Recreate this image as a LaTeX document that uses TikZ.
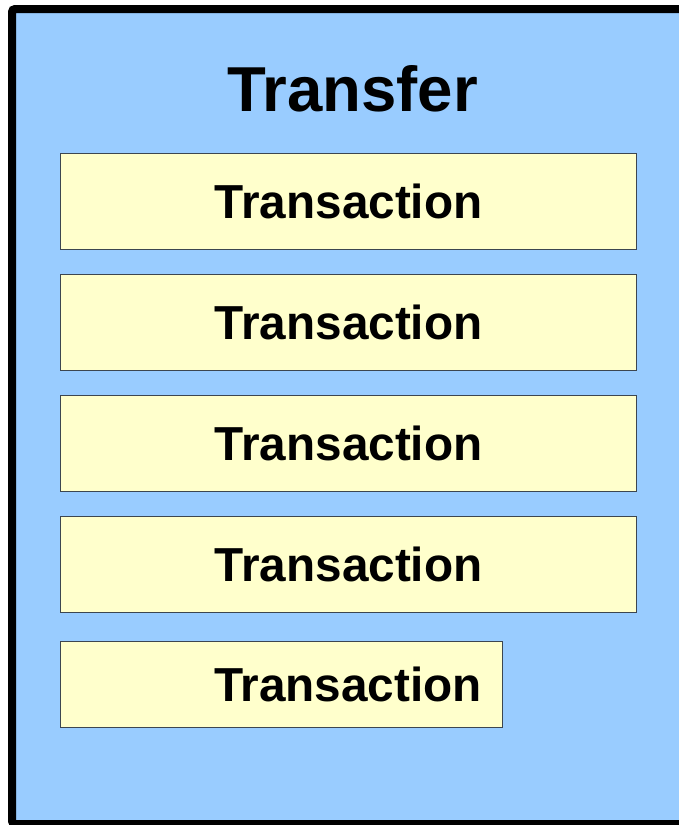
\documentclass[tikz,border=0pt]{standalone}
\usepackage{fontspec}
\setmainfont{Liberation Sans}
\usetikzlibrary{positioning}
\definecolor{skyblue}{HTML}{99CCFF}
\definecolor{paleyellow}{HTML}{FFFFCC}
\definecolor{boxline}{HTML}{3C4650}
\tikzset{
  txbox/.style={draw=boxline, line width=1.3pt, fill=paleyellow, anchor=north west,
    minimum height=96pt, inner sep=0pt},
  txtext/.style={font=\fontsize{47.7}{50}\selectfont\bfseries, inner sep=0pt},
}

\begin{document}
\begin{tikzpicture}[x=1pt,y=-1pt]
\useasboundingbox (0,0) rectangle (679,825);
\begin{scope}
\clip (0,0) rectangle (679,825);
\draw[line width=8pt, fill=skyblue, rounded corners=3pt] (12,9) rectangle (700,824);
\end{scope}
\node[font=\fontsize{63.5}{66}\selectfont\bfseries, inner sep=0pt] (transfer) at (352.5,89) {Transfer};
% the five transaction boxes
\foreach \i/\y in {1/153,2/274,3/395,4/516}
{
  \node[txbox, minimum width=576pt] (box\i) at (60,\y) {};
  \node[txtext] (tx\i) at (box\i.center) {Transaction};
}
\node[txbox, minimum width=442pt, minimum height=86pt] (box5) at (60,641) {};
\node[txtext] (tx5) at (348,684) {Transaction};
\end{tikzpicture}
\end{document}
